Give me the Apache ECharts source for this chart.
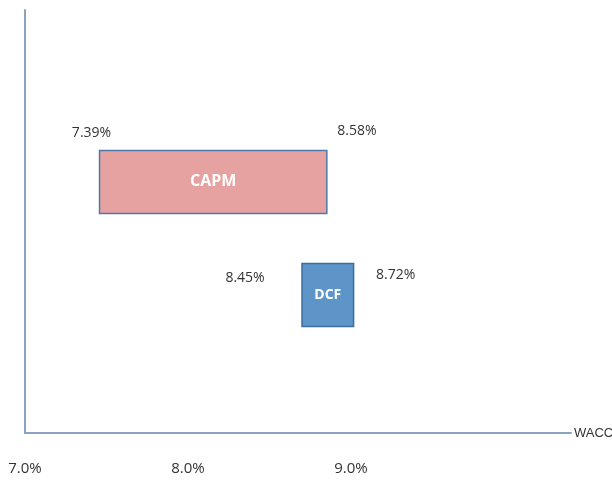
<!DOCTYPE html>
<html>
<head>
<meta charset="utf-8">
<script src="https://cdn.jsdelivr.net/npm/echarts@6/dist/echarts.min.js"></script>
<style>
  html, body { margin: 0; padding: 0; background: #fff; }
  #chart { width: 612px; height: 481px; }
</style>
</head>
<body>
<div id="chart"></div>
<script>
// WACC ranges by method
const methods = ["CAPM", "DCF"];
const lowValues = [7.39, 8.45];
const highValues = [8.58, 8.72];
const rowPos = [2, 1];
const tickLabels = ["7.0%", "8.0%", "9.0%"];

// per-box look (colours and where the % labels sit)
const boxStyle = [
  { fill: "#E6A2A0", stroke: "#4F79A8", nameSize: 16, lowOff: [-8, -17], highOff: [30, -19] },
  { fill: "#5E95C9", stroke: "#3D6C9E", nameSize: 14, lowOff: [-57, 14], highOff: [42, 11] }
];

const chart = echarts.init(document.getElementById("chart"));

const option = {
  animation: false,
  grid: { left: 25, right: 41, top: 10, bottom: 48, outerBoundsMode: "none" },
  xAxis: [
    {
      type: "value",
      min: 7,
      max: 9.858,
      axisLine: { show: true, onZero: false, lineStyle: { color: "#8BA3C2", width: 2 } },
      axisTick: { show: false },
      axisLabel: { show: false },
      splitLine: { show: false },
      name: "WACC",
      nameLocation: "end",
      nameGap: 3,
      nameTextStyle: { color: "#333", fontSize: 13, fontFamily: "Liberation Sans" }
    },
    {
      // label row below the axis
      type: "value",
      position: "bottom",
      min: 7,
      max: 10.35,
      interval: 1,
      axisLine: { show: false, onZero: false },
      axisTick: { show: false },
      splitLine: { show: false },
      axisLabel: {
        margin: 28,
        color: "#333",
        fontSize: 15,
        fontFamily: "Open Sans",
        formatter: (v) => {
          const i = Math.round(v - 7);
          return tickLabels[i] !== undefined ? tickLabels[i] : "";
        }
      }
    }
  ],
  yAxis: {
    type: "value",
    min: -0.22,
    max: 3.52,
    axisLine: { show: true, onZero: false, lineStyle: { color: "#8BA3C2", width: 2 } },
    axisTick: { show: false },
    axisLabel: { show: false },
    splitLine: { show: false }
  },
  series: [
    {
      type: "custom",
      xAxisIndex: 0,
      data: methods.map((m, i) => [lowValues[i], highValues[i], rowPos[i], i]),
      renderItem: (params, api) => {
        const idx = api.value(3);
        const st = boxStyle[idx];
        const p0 = api.coord([api.value(0), api.value(2)]);
        const p1 = api.coord([api.value(1), api.value(2)]);
        const h = 63;
        const top = p0[1] - h / 2;
        const fmt = (v) => v.toFixed(2) + "%";
        return {
          type: "group",
          children: [
            {
              type: "rect",
              shape: { x: p0[0], y: top, width: p1[0] - p0[0], height: h },
              style: { fill: st.fill, stroke: st.stroke, lineWidth: 1.5 }
            },
            {
              type: "text",
              x: (p0[0] + p1[0]) / 2,
              y: p0[1],
              style: {
                text: methods[idx],
                fill: "#fff",
                font: "bold " + st.nameSize + "px 'Open Sans'",
                align: "center",
                verticalAlign: "middle"
              }
            },
            {
              type: "text",
              x: p0[0] + st.lowOff[0],
              y: top + st.lowOff[1],
              style: {
                text: fmt(api.value(0)),
                fill: "#333",
                font: "14px 'Open Sans'",
                align: "center",
                verticalAlign: "middle"
              }
            },
            {
              type: "text",
              x: p1[0] + st.highOff[0],
              y: top + st.highOff[1],
              style: {
                text: fmt(api.value(1)),
                fill: "#333",
                font: "14px 'Open Sans'",
                align: "center",
                verticalAlign: "middle"
              }
            }
          ]
        };
      }
    }
  ]
};

chart.setOption(option);
</script>
</body>
</html>
